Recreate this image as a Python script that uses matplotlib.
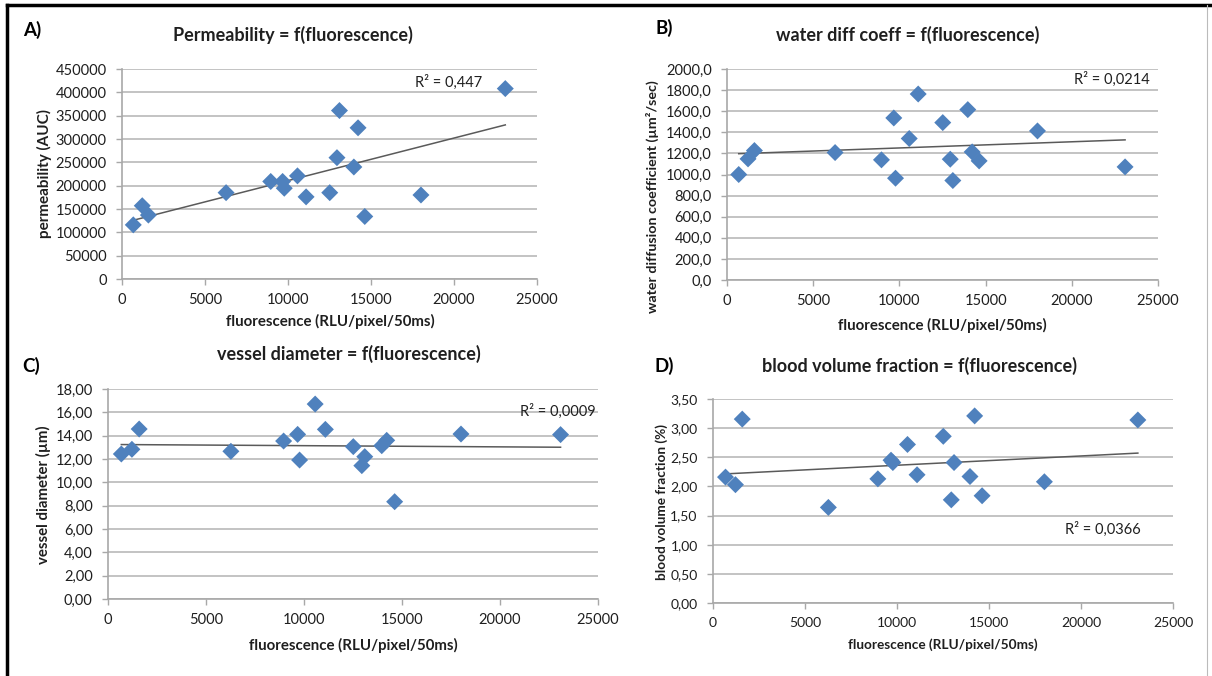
import numpy as np
import matplotlib
matplotlib.use('Agg')
import matplotlib.pyplot as plt
from matplotlib.ticker import FuncFormatter, MultipleLocator
from matplotlib.lines import Line2D

# ---------------- data ----------------
fluorescence = [680, 1220, 1590, 6270, 8960, 9675, 9775, 10570, 11090,
                12515, 12950, 13100, 13967, 14220, 14625, 18010, 23090]
permeability = [116000, 157000, 137000, 185000, 209000, 209000, 194500, 221000, 176000,
                185000, 260000, 361000, 240000, 324000, 134000, 180000, 408000]
water_diff = [1000, 1148, 1227, 1208, 1139, 1536, 965, 1341, 1763,
              1492, 1145, 943, 1615, 1214, 1129, 1413, 1072]
vessel_diam = [12.43, 12.83, 14.57, 12.66, 13.54, 14.11, 11.91, 16.71, 14.54,
               13.06, 11.43, 12.20, 13.14, 13.60, 8.34, 14.14, 14.09]
blood_vol = [2.16, 2.03, 3.155, 1.64, 2.13, 2.45, 2.41, 2.72, 2.20,
             2.86, 1.77, 2.41, 2.17, 3.21, 1.84, 2.08, 3.14]

panel_letters = ['A)', 'B)', 'C)', 'D)']
titles = ['Permeability = f(fluorescence)', 'water diff coeff = f(fluorescence)',
          'vessel diameter = f(fluorescence)', 'blood volume fraction = f(fluorescence)']
ylabels = ['permeability (AUC)', 'water diffusion coefficient (µm²/sec)',
           'vessel diameter (µm)', 'blood volume fraction (%)']
xlabel_text = 'fluorescence (RLU/pixel/50ms)'
r2_labels = ['R² = 0,447', 'R² = 0,0214', 'R² = 0,0009', 'R² = 0,0366']
y_limits = [(0, 450000), (0, 2000), (0, 18), (0, 3.5)]
y_steps = [50000, 200, 2, 0.5]
y_decimals = [0, 1, 2, 2]
x_limits = (0, 25000)
x_step = 5000

# ---------------- style ----------------
W, H = 1212, 676
plt.rcParams['font.family'] = ['Lato', 'DejaVu Sans']
fig = plt.figure(figsize=(W / 100, H / 100), dpi=100)
fig.patch.set_facecolor('white')

def fx(px):
    return px / W

def fy(py):
    return 1 - py / H

# pixel boxes: left, top, right, bottom
boxes = [(122, 69, 537, 279), (727, 69, 1158, 280),
         (108, 389, 598, 599), (713, 399, 1173, 603)]
letter_pos = [(32, 30), (664, 28), (31, 366), (664, 366)]
title_pos = [(293, 35), (908, 35), (349, 354), (920, 366)]
xlabel_pos = [(330, 321), (942, 325), (353, 645), (943, 645)]
ylabel_pos = [(44, 174), (652, 197), (43, 495), (662, 502)]
r2_pos = [(0.706, 0.935, 'left'), (0.893, 0.95, 'center'),
          (0.918, 0.895, 'center'), (0.848, 0.36, 'center')]
tick_fs = [10.5, 10.5, 10.5, 10.0]
lab_fs = [10.8, 10.8, 10.8, 9.8]
ylab_fs = [11.0, 10.3, 10.8, 9.8]

series = [permeability, water_diff, vessel_diam, blood_vol]

grid_c = '#BEBEBE'
txt_c = '#1f1f1f'

for i in range(4):
    l, t, r, b = boxes[i]
    ax = fig.add_axes([fx(l), fy(b), (r - l) / W, (b - t) / H])
    x = np.array(fluorescence, dtype=float)
    y = np.array(series[i], dtype=float)
    ax.set_xlim(*x_limits)
    ax.set_ylim(*y_limits[i])
    ax.xaxis.set_major_locator(MultipleLocator(x_step))
    ax.yaxis.set_major_locator(MultipleLocator(y_steps[i]))
    d = y_decimals[i]
    ax.yaxis.set_major_formatter(FuncFormatter(
        lambda v, p, d=d: (f'{v:.{d}f}').replace('.', ',')))
    ax.xaxis.set_major_formatter(FuncFormatter(lambda v, p: f'{v:.0f}'))
    ax.grid(axis='y', color=grid_c, lw=1.3)
    ax.set_axisbelow(True)
    for s in ['top', 'right']:
        ax.spines[s].set_visible(False)
    for s in ['left', 'bottom']:
        ax.spines[s].set_color('#A8A8A8')
        ax.spines[s].set_linewidth(1.2)
    ax.tick_params(axis='both', colors='#A8A8A8', length=4, width=1.0,
                   labelsize=tick_fs[i], labelcolor=txt_c, pad=7)
    ax.tick_params(axis='x', pad=6)

    coef = np.polyfit(x, y, 1)
    xs = np.array([x.min(), x.max()])
    ax.plot(xs, np.polyval(coef, xs), color='#5A5A5A', lw=1.1, zorder=2)
    ax.scatter(x, y, marker='D', s=75, color='#4F81BD', edgecolor='none',
               zorder=3, clip_on=False)

    rx, ry, ha = r2_pos[i]
    ax.text(rx, ry, r2_labels[i], transform=ax.transAxes, ha=ha, va='center',
            fontsize=10.5, color=txt_c)

    px, py = letter_pos[i]
    fig.text(fx(px), fy(py), panel_letters[i], ha='center', va='center',
             fontsize=13.5, fontweight='bold', color='black')
    px, py = title_pos[i]
    fig.text(fx(px), fy(py), titles[i], ha='center', va='center',
             fontsize=13, fontweight='bold', color=txt_c)
    px, py = xlabel_pos[i]
    fig.text(fx(px), fy(py), xlabel_text, ha='center', va='center',
             fontsize=lab_fs[i], fontweight='bold', color=txt_c)
    px, py = ylabel_pos[i]
    fig.text(fx(px), fy(py), ylabels[i], ha='center', va='center',
             rotation=90, fontsize=ylab_fs[i], fontweight='bold', color=txt_c)

# figure frame
fig.add_artist(Line2D([fx(7), fx(7)], [0, fy(5)], color='black', lw=2.5,
                      transform=fig.transFigure))
fig.add_artist(Line2D([fx(7), 1], [fy(5), fy(5)], color='black', lw=2.5,
                      transform=fig.transFigure))
fig.add_artist(Line2D([fx(1207), fx(1207)], [0, fy(5)], color='#BBBBBB', lw=0.8,
                      transform=fig.transFigure))

fig.savefig('out.png', dpi=100, facecolor='white')
